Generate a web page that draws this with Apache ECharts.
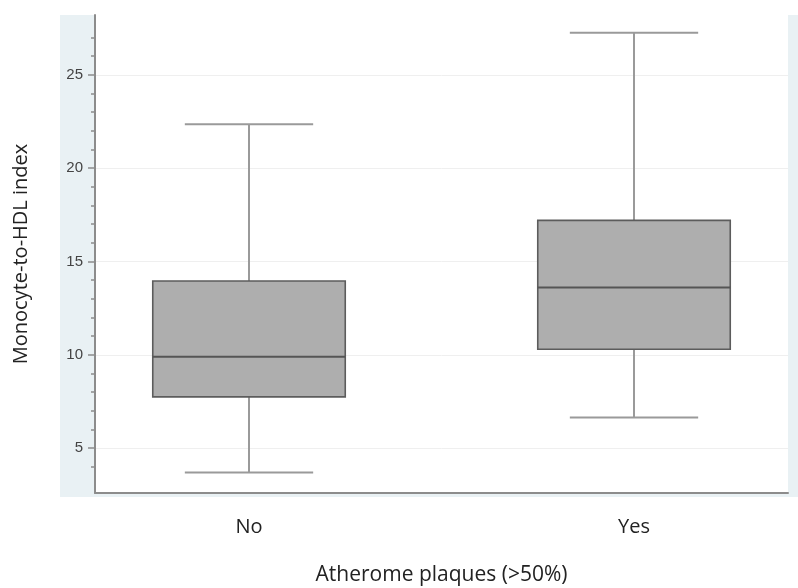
<!DOCTYPE html>
<html>
<head>
<meta charset="utf-8">
<script src="https://cdn.jsdelivr.net/npm/echarts@6/dist/echarts.min.js"></script>
<style>html,body{margin:0;padding:0;background:#fff}#c{width:798px;height:588px}</style>
</head>
<body>
<div id="c"></div>
<script>
const categories = ['No', 'Yes'];
const lowerWhisker = [3.7, 6.65];
const q1 = [7.75, 10.3];
const median = [9.9, 13.6];
const q3 = [13.95, 17.2];
const upperWhisker = [22.35, 27.25];
const yMajorTicks = [5, 10, 15, 20, 25];
const yMinorTicks = [4, 6, 7, 8, 9, 11, 12, 13, 14, 16, 17, 18, 19, 21, 22, 23, 24, 26, 27];
const xTitle = 'Atherome plaques (>50%)';
const yTitle = 'Monocyte-to-HDL index';

const boxData = categories.map((c, i) => [i + 1, lowerWhisker[i], q1[i], median[i], q3[i], upperWhisker[i]]);

const chart = echarts.init(document.getElementById('c'), null, {renderer: 'canvas'});
const axisGray = '#8c8c8c';
const yMin = 2.6, yMax = 28.2;

const option = {
  animation: false,
  graphic: [{
    type: 'rect', z: -10, silent: true,
    shape: {x: 60, y: 15, width: 738, height: 482},
    style: {fill: '#e9f1f4'}
  }],
  grid: {left: 95, right: 10, top: 15, bottom: 95, show: true, backgroundColor: '#ffffff', borderWidth: 0,
    outerBoundsMode: 'none', containLabel: false},
  xAxis: {
    type: 'value', min: 0.6, max: 2.4,
    name: xTitle, nameLocation: 'middle', nameGap: 72,
    nameTextStyle: {fontFamily: 'Open Sans', fontSize: 21, color: '#222'},
    axisLine: {show: true, lineStyle: {color: axisGray, width: 2}},
    axisTick: {show: false},
    splitLine: {show: false},
    axisLabel: {
      customValues: [1, 2],
      formatter: v => categories[Math.round(v) - 1] || '',
      margin: 24, fontFamily: 'Open Sans', fontSize: 20, color: '#222'
    }
  },
  yAxis: [{
    type: 'value', min: yMin, max: yMax, position: 'left',
    name: yTitle, nameLocation: 'middle', nameGap: 64, nameRotate: 90,
    nameTextStyle: {fontFamily: 'Open Sans', fontSize: 20, color: '#222'},
    axisLine: {show: true, lineStyle: {color: axisGray, width: 2}},
    axisTick: {show: true, customValues: yMajorTicks, length: 7, lineStyle: {color: axisGray, width: 1.5}},
    axisLabel: {customValues: yMajorTicks, margin: 12, fontFamily: 'Liberation Sans', fontSize: 15, color: '#444'},
    splitLine: {show: true, lineStyle: {color: '#efefef', width: 1}}
  }, {
    type: 'value', min: yMin, max: yMax, position: 'left', offset: 0,
    axisLine: {show: false},
    axisTick: {show: true, customValues: yMinorTicks, length: 4, lineStyle: {color: axisGray, width: 1.5}},
    axisLabel: {show: false},
    splitLine: {show: false}
  }],
  series: [{
    type: 'custom',
    xAxisIndex: 0, yAxisIndex: 0,
    data: boxData,
    renderItem: function (params, api) {
      const x = api.value(0);
      const pLow = api.coord([x, api.value(1)]);
      const pQ1 = api.coord([x, api.value(2)]);
      const pMed = api.coord([x, api.value(3)]);
      const pQ3 = api.coord([x, api.value(4)]);
      const pHigh = api.coord([x, api.value(5)]);
      const boxW = api.size([0.5, 0])[0];
      const capW = api.size([1 / 3, 0])[0];
      const cx = pMed[0];
      const whiskerStyle = {stroke: '#9a9a9a', lineWidth: 2, fill: null};
      return {
        type: 'group',
        children: [
          {type: 'line', shape: {x1: cx, y1: pLow[1], x2: cx, y2: pQ1[1]}, style: whiskerStyle},
          {type: 'line', shape: {x1: cx, y1: pQ3[1], x2: cx, y2: pHigh[1]}, style: whiskerStyle},
          {type: 'line', shape: {x1: cx - capW / 2, y1: pLow[1], x2: cx + capW / 2, y2: pLow[1]}, style: whiskerStyle},
          {type: 'line', shape: {x1: cx - capW / 2, y1: pHigh[1], x2: cx + capW / 2, y2: pHigh[1]}, style: whiskerStyle},
          {type: 'rect', shape: {x: cx - boxW / 2, y: pQ3[1], width: boxW, height: pQ1[1] - pQ3[1]},
            style: {fill: '#aeaeae', stroke: '#5c5c5c', lineWidth: 1.6}},
          {type: 'line', shape: {x1: cx - boxW / 2, y1: pMed[1], x2: cx + boxW / 2, y2: pMed[1]},
            style: {stroke: '#555555', lineWidth: 2}}
        ]
      };
    }
  }]
};
chart.setOption(option);
</script>
</body>
</html>
